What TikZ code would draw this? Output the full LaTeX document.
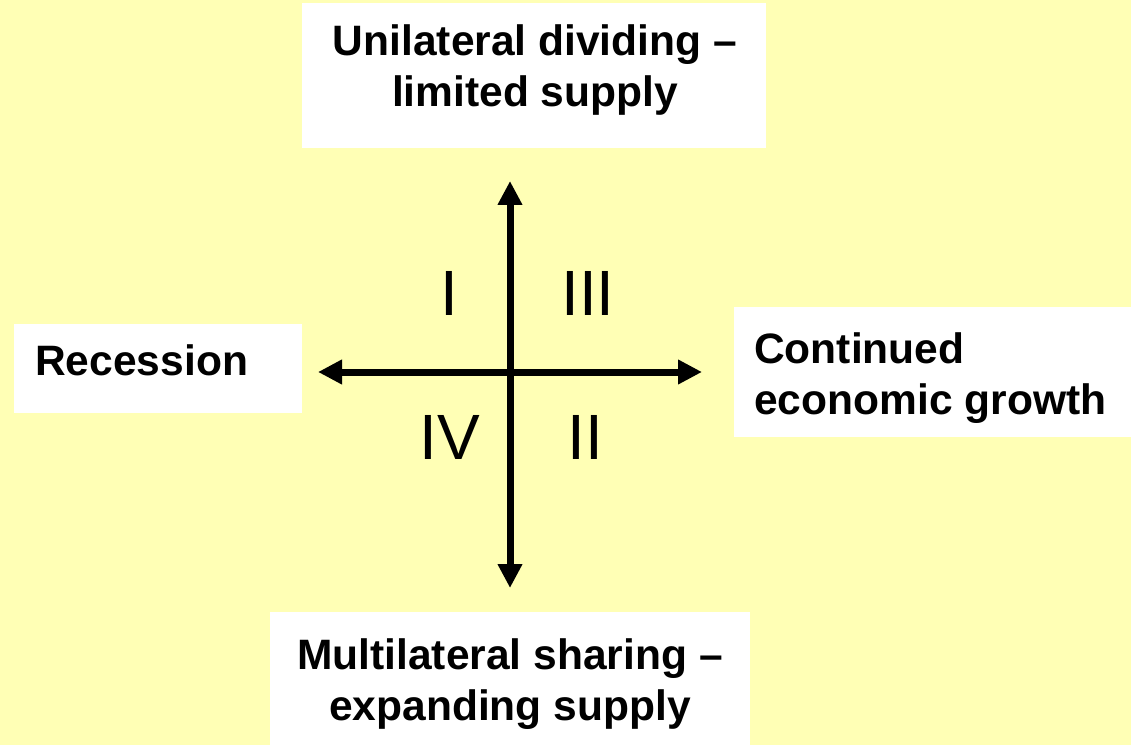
\documentclass[tikz,border=0pt]{standalone}
\usepackage{fontspec}
\setmainfont{Liberation Sans}
\usepackage{tikz}
\usetikzlibrary{positioning,arrows.meta,fit}
\definecolor{paleyellow}{RGB}{255,255,181}
\tikzset{
  axisarrow/.style={{Triangle[length=18pt,width=17.5pt]}-{Triangle[length=18pt,width=17.5pt]}, line width=5.25pt},
  whitebox/.style={fill=white, inner sep=0pt},
  boxtext/.style={font=\bfseries\fontsize{31.9}{38.3}\selectfont, inner sep=0pt},
  quadlabel/.style={font=\fontsize{48}{52}\selectfont, inner sep=0pt}
}

\begin{document}
\begin{tikzpicture}[x=0.75pt, y=-0.75pt]
  % page and background
  \fill[paleyellow] (0,0) rectangle (1131,745);
  \useasboundingbox (0,0) rectangle (1131,745);

  % white boxes
  \node[whitebox, fit={(302,3) (766,148)}] (upbox) {};
  \node[whitebox, fit={(14,324) (302,413)}] (leftbox) {};
  \node[whitebox, fit={(734,307) (1131,437)}] (rightbox) {};
  \node[whitebox, fit={(270,612) (750,745)}] (downbox) {};

  % texts
  \node[boxtext, align=center] (uptext) at (535,70) {Unilateral dividing --\\limited supply};
  \node[boxtext, anchor=west] (lefttext) at (35,360) {Recession};
  \node[boxtext, align=left, anchor=west] (righttext) at (754,378) {Continued\\economic growth};
  \node[boxtext, align=center] (downtext) at (510,684) {Multilateral sharing --\\expanding supply};

  % axes
  \coordinate (ntip) at (510,181);
  \coordinate (stip) at (510,588);
  \coordinate (wtip) at (318,372);
  \coordinate (etip) at (702,372);
  \draw[axisarrow] (ntip) -- (stip);
  \draw[axisarrow] (wtip) -- (etip);

  % quadrants
  \node[quadlabel] (qone) at (449,293) {I};
  \node[quadlabel] (qthree) at (588,293) {III};
  \node[quadlabel] (qfour) at (450,437) {IV};
  \node[quadlabel] (qtwo) at (585,437) {II};
\end{tikzpicture}
\end{document}
